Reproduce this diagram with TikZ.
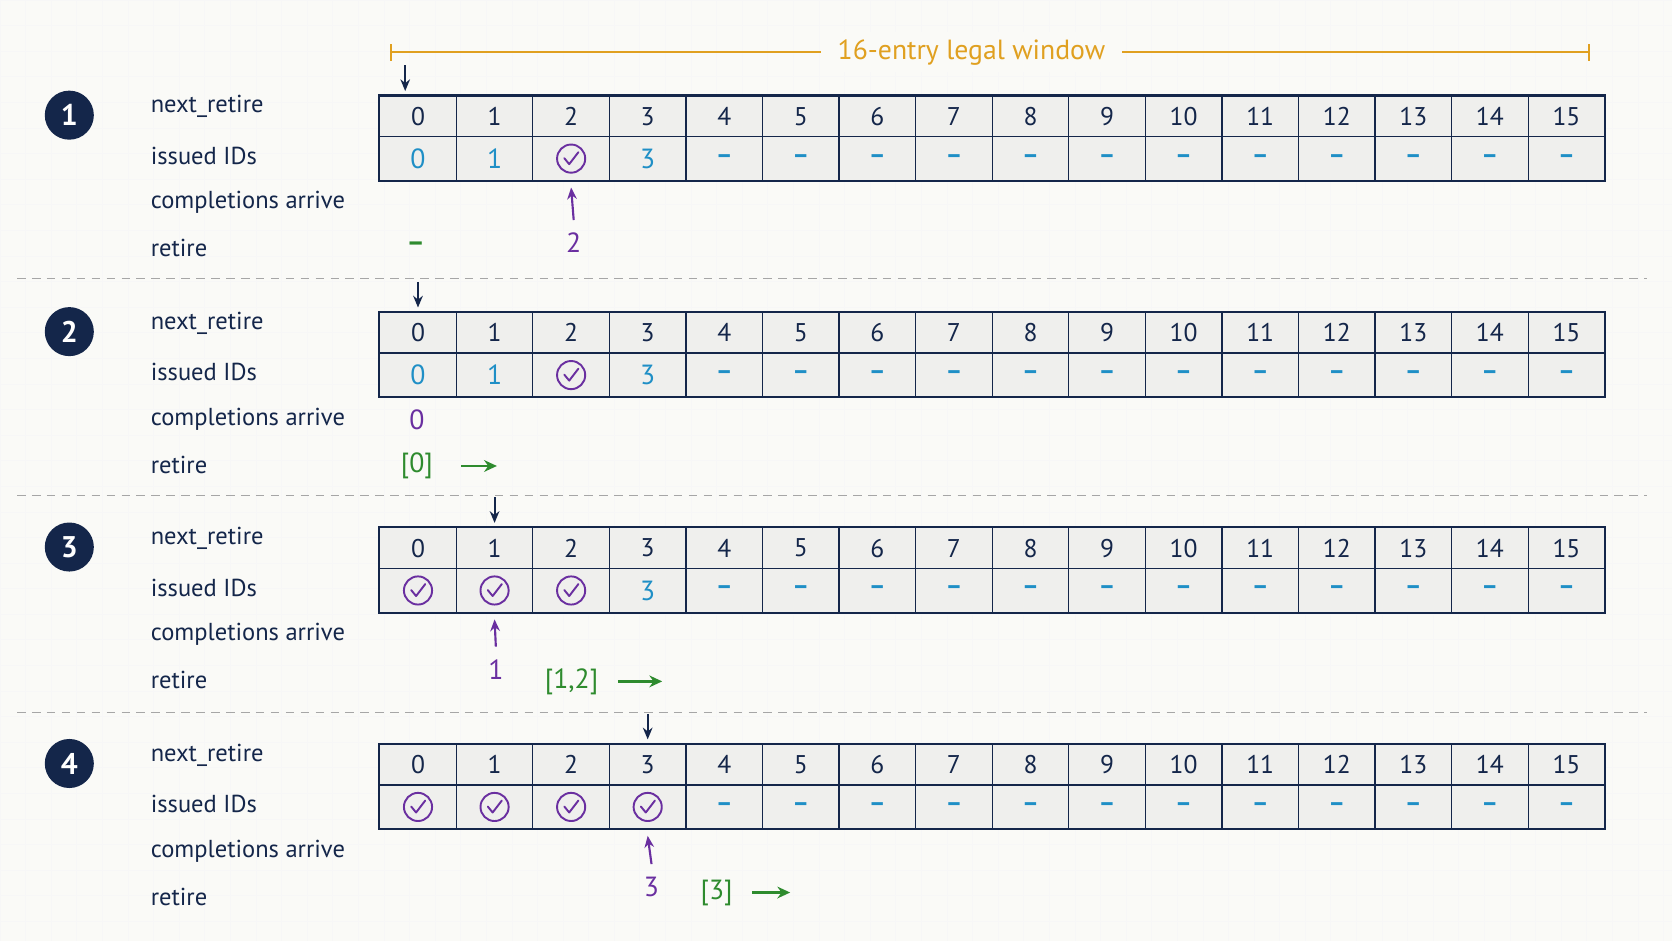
\documentclass[tikz,border=0pt]{standalone}
\usepackage{fontspec}
\setmainfont{PT Sans}
\usetikzlibrary{arrows.meta,positioning}
\definecolor{navy}{HTML}{14264A}
\definecolor{idblue}{HTML}{1F8FC6}
\definecolor{donepurple}{HTML}{6A2FA0}
\definecolor{retgreen}{HTML}{2E8B2E}
\definecolor{winorange}{HTML}{E0A020}
\definecolor{cellgray}{HTML}{EFEFED}
\definecolor{bg}{HTML}{FAFAF7}
\tikzset{
  cell/.style={draw=navy, fill=cellgray, line width=0.6pt, minimum width=35.9pt, inner sep=0pt, font=\fontsize{12}{14}\selectfont, text=navy},
  hdr/.style={cell, minimum height=19pt},
  ids/.style={cell, minimum height=20.5pt, text=idblue},
  lbl/.style={anchor=west, inner sep=0pt, text=navy, font=\fontsize{11.5}{14}\selectfont},
  stepno/.style={circle, fill=navy, text=white, minimum size=23pt, inner sep=0pt, font=\bfseries\fontsize{14}{16}\selectfont},
  done/.style={text=donepurple, font=\fontsize{13}{15}\selectfont, inner sep=1pt},
  ret/.style={text=retgreen, font=\fontsize{13}{15}\selectfont, inner sep=1pt},
  ptr/.style={-{Stealth[length=5.5pt,width=4.5pt]}, navy, line width=1pt},
  arr/.style={-{Stealth[length=5.5pt,width=4.5pt]}, donepurple, line width=1pt},
  go/.style={-{Stealth[length=6pt,width=5.5pt]}, retgreen, line width=1.2pt},
  chk/.pic={
    \draw[donepurple, line width=0.9pt] (0,0) circle (6.6pt);
    \draw[donepurple, line width=0.9pt, line join=round, line cap=round] (-3.2pt,0.2pt) -- (-0.9pt,-2.6pt) -- (3.4pt,3pt);
  }
}
\begin{document}
\begin{tikzpicture}[x=0.5pt,y=-0.5pt]
\useasboundingbox (0,0) rectangle (1568,882);
\fill[bg] (0,0) rectangle (1568,882);
% faint grid
\foreach \g in {0,24,...,1568} \draw[black!3, line width=0.3pt] (\g,0) -- (\g,882);
\foreach \g in {0,24,...,882} \draw[black!3, line width=0.3pt] (0,\g) -- (1568,\g);

% window bracket
\coordinate (wl) at (367,49);
\coordinate (wr) at (1490,49);
\draw[winorange, line width=1pt] (wl) -- (wr);
\draw[winorange, line width=1pt] ([yshift=-4pt]wl) -- ([yshift=4pt]wl);
\draw[winorange, line width=1pt] ([yshift=-4pt]wr) -- ([yshift=4pt]wr);
\node[fill=bg, text=winorange, inner xsep=8pt, font=\fontsize{13}{15}\selectfont] (win) at (911,49) {16-entry legal window};

% separators
\foreach \s in {261,465,668}
  \draw[black!35, dashed, dash pattern=on 4pt off 3pt, line width=0.6pt] (16,\s) -- (1545,\s);

% panels
\foreach \p/\yo in {1/0,2/203,3/405,4/608}{
  \begin{scope}[yshift=-0.5*\yo pt]
    \node[stepno] (s\p) at (65,108) {\p};
    \node[lbl] (ln\p) at (141,100) {next\_retire};
    \node[lbl] (li\p) at (141,146) {issued IDs};
    \node[lbl] (lc\p) at (141,190) {completions arrive};
    \node[lbl] (lr\p) at (141,233) {retire};
    \foreach \c in {0,...,15}{
      \node[hdr] (h\p-\c) at ({392+71.8*\c},109) {\c};
      \node[ids] (i\p-\c) at ({392+71.8*\c},148.75) {\ifnum\c>3 \raisebox{-2pt}{\bfseries –}\fi};
    }
    \draw[navy, line width=0.8pt] (h\p-0.north west) rectangle (i\p-15.south east);
  \end{scope}
}

% issued IDs, first four columns
\foreach \p/\a/\b/\cc/\d in {1/0/1/x/3, 2/0/1/x/3, 3/x/x/x/3, 4/x/x/x/x}{
  \foreach \c/\v in {0/\a,1/\b,2/\cc,3/\d}{
    \if x\v \pic at (i\p-\c) {chk};
    \else \node[text=idblue, font=\fontsize{13}{15}\selectfont] at (i\p-\c) {\v};
    \fi
  }
}

% next_retire pointers
\foreach \p/\c/\dx in {1/0/-12,2/0/0,3/1/0,4/3/0}{
  \coordinate (t\p) at ([xshift=\dx*0.5pt, yshift=14pt]h\p-\c.north);
  \draw[ptr] (t\p) -- ([xshift=\dx*0.5pt, yshift=2pt]h\p-\c.north);
}

% panel 1
\node[done] (c1) at (538,228) {2};
\draw[arr] ([yshift=5pt]c1.north) -- ([yshift=-3pt]i1-2.south);
\node[ret] (r1) at (390,231) {\bfseries –};
% panel 2
\node[done] (c2) at (391,394) {0};
\node[ret] (r2) at (391,437) {[0]};
\coordinate (g2) at (466,437);
\draw[go] ([xshift=12pt]r2.east) -- (g2);
% panel 3
\node[done] (c3) at (465,628) {1};
\draw[arr] ([yshift=5pt]c3.north) -- ([yshift=-3pt]i3-1.south);
\node[ret] (r3) at (536,639) {[1,2]};
\coordinate (g3) at (621,639);
\draw[go] ([xshift=8pt]r3.east) -- (g3);
% panel 4
\node[done] (c4) at (611,832) {3};
\draw[arr] ([yshift=5pt]c4.north) -- ([yshift=-3pt]i4-3.south);
\node[ret] (r4) at (672,837) {[3]};
\coordinate (g4) at (741,837);
\draw[go] ([xshift=8pt]r4.east) -- (g4);
\end{tikzpicture}
\end{document}
